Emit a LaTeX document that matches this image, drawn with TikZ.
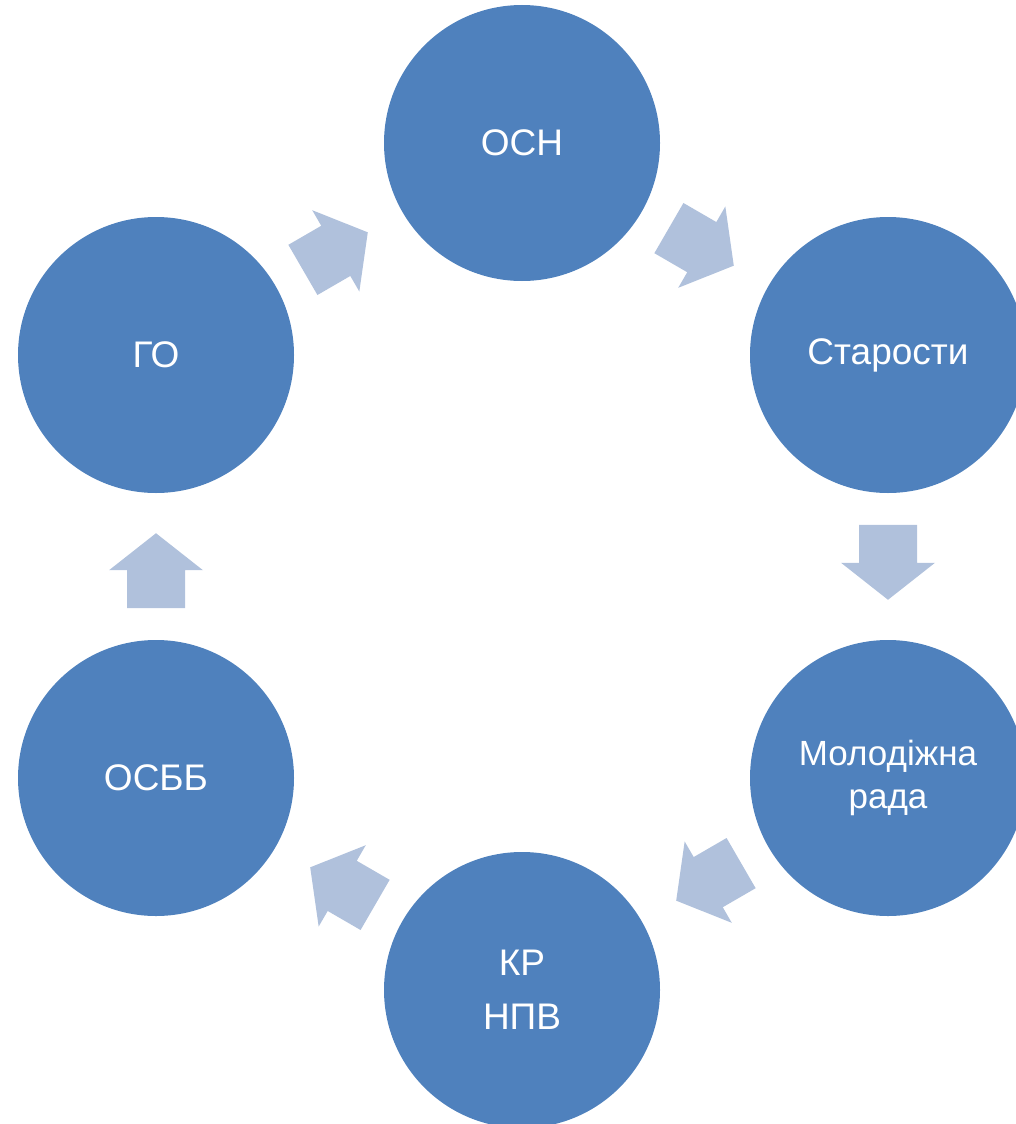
\documentclass[tikz,border=0pt]{standalone}
\usepackage{fontspec}
\setmainfont{Liberation Sans}
\usetikzlibrary{calc}
\definecolor{circblue}{HTML}{4F81BD}
\definecolor{arrblue}{HTML}{B0C1DC}
\tikzset{
  stage/.style={circle, fill=circblue, minimum size=276pt, inner sep=0pt,
    text=white, font=\fontsize{37}{44}\selectfont, align=center},
  blockarrow/.style={fill=arrblue, draw=none}
}
\newcommand{\blockarr}[3]{%
  \path ($(#1)!0.49!(#2)$) coordinate (#3);
  \begin{scope}[shift={(#3)}]
    \path let \p1=($(#2)-(#1)$), \n1={atan2(\y1,\x1)} in
      [rotate=\n1] [blockarrow] (-37.5pt,-29pt) -- (0.5pt,-29pt) -- (0.5pt,-47pt) -- (37.5pt,0pt)
      -- (0.5pt,47pt) -- (0.5pt,29pt) -- (-37.5pt,29pt) -- cycle;
  \end{scope}}
\begin{document}
\begin{tikzpicture}[x=1pt,y=-1pt]
\useasboundingbox (0,0) rectangle (1015,1124);
\node[stage] (osn) at (522,143) {ОСН};
\node[stage] (star) at (888,355) {\raisebox{-4pt}{Старости}};
\node[stage, font=\fontsize{35}{43}\selectfont] (mol) at (888,778) {\raisebox{-3pt}{Молодіжна}\\\raisebox{-3pt}{рада}};
\node[stage, font=\fontsize{37}{54}\selectfont] (kr) at (522,990) {КР\\НПВ};
\node[stage] (osbb) at (156,778) {ОСББ};
\node[stage] (go) at (156,355) {ГО};
\blockarr{osn}{star}{m1}
\blockarr{star}{mol}{m2}
\blockarr{mol}{kr}{m3}
\blockarr{kr}{osbb}{m4}
\blockarr{osbb}{go}{m5}
\blockarr{go}{osn}{m6}
\end{tikzpicture}
\end{document}
